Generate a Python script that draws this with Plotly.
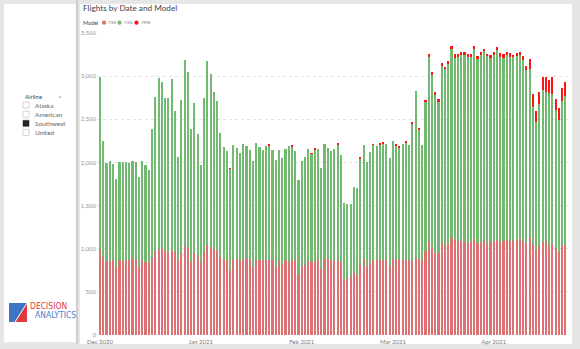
import pandas as pd
import plotly.graph_objects as go

# Daily Southwest flights by aircraft model, 1 Dec 2020 - 23 Apr 2021
dates = pd.date_range("2020-12-01", "2021-04-23", freq="D")

flights_738 = [
    996, 900, 857, 861, 865, 784, 865, 861, 865, 865,
    880, 880, 791, 865, 850, 830, 892, 965, 992, 1004,
    973, 965, 984, 957, 868, 950, 1030, 1011, 841, 946,
    911, 841, 965, 1038, 1015, 996, 977, 900, 868, 872,
    757, 872, 876, 853, 884, 880, 880, 791, 872, 872,
    872, 865, 865, 865, 787, 853, 822, 865, 850, 865,
    865, 703, 795, 811, 865, 841, 853, 872, 764, 884,
    880, 872, 861, 872, 841, 633, 648, 679, 726, 695,
    815, 876, 784, 818, 872, 872, 872, 872, 872, 803,
    880, 880, 872, 872, 865, 865, 861, 892, 884, 872,
    977, 1085, 1007, 950, 946, 1081, 1034, 1058, 1123, 1096,
    1100, 1092, 1081, 1069, 1088, 1112, 1069, 1081, 1104, 1058,
    1081, 1088, 1104, 1088, 1092, 1104, 1092, 1088, 1104, 1112,
    1088, 1065, 1135, 1058, 980, 1027, 1081, 1088, 1034, 1058,
    1007, 965, 1034, 1058,
]

flights_73g = [
    1999, 1343, 1139, 1150, 1119, 1026, 1138, 1142, 1138, 1131,
    1135, 1123, 1043, 1146, 1119, 1077, 1493, 1791, 1992, 1930,
    1768, 1776, 1988, 1641, 1193, 1775, 2158, 2042, 1548, 1741,
    1417, 1131, 1779, 2143, 2007, 1826, 1737, 1439, 1313, 1263,
    1167, 1332, 1289, 1255, 1328, 1316, 1266, 1220, 1351, 1305,
    1274, 1320, 1331, 1281, 1243, 1293, 1235, 1289, 1335, 1315,
    1266, 1088, 1224, 1250, 1289, 1257, 1297, 1282, 1174, 1324,
    1293, 1263, 1293, 1339, 1247, 896, 865, 838, 984, 1007,
    1230, 1324, 1223, 1305, 1330, 1313, 1332, 1352, 1340, 1254,
    1370, 1320, 1303, 1340, 1367, 1335, 1587, 1937, 1488, 1328,
    1721, 2135, 2009, 1834, 1752, 2031, 2047, 2085, 2189, 2117,
    2120, 2155, 2166, 2151, 2132, 2204, 2128, 2166, 2182, 2170,
    2126, 2159, 2201, 2139, 2124, 2143, 2135, 2129, 2131, 2135,
    2102, 2009, 1946, 1590, 1494, 1652, 1760, 1734, 1768, 1737,
    1602, 1521, 1680, 1713,
]

flights_7m8 = [
    0, 0, 0, 0, 0, 0, 0, 0, 0, 0,
    0, 0, 0, 0, 0, 0, 0, 0, 0, 0,
    0, 0, 0, 0, 0, 0, 0, 0, 0, 0,
    0, 0, 0, 0, 0, 0, 0, 0, 0, 0,
    10, 0, 0, 0, 0, 0, 0, 0, 0, 0,
    0, 0, 12, 0, 0, 0, 0, 0, 0, 12,
    0, 0, 0, 0, 0, 10, 15, 0, 0, 0,
    0, 0, 0, 12, 0, 0, 0, 0, 0, 0,
    12, 0, 0, 0, 10, 0, 12, 15, 0, 0,
    0, 12, 10, 0, 15, 0, 15, 0, 25, 0,
    27, 38, 30, 30, 35, 38, 30, 38, 38, 45,
    38, 38, 38, 38, 38, 38, 38, 38, 30, 30,
    35, 38, 38, 38, 42, 38, 38, 30, 38, 38,
    45, 45, 115, 147, 124, 143, 154, 173, 155, 200,
    124, 143, 146, 166,
]

models = ["738", "73G", "7M8"]
model_colors = ["#DD7072", "#72B972", "#FF1414"]

month_ticks = ["2020-12-01", "2021-01-01", "2021-02-01", "2021-03-01", "2021-04-01"]
month_labels = ["Dec 2020", "Jan 2021", "Feb 2021", "Mar 2021", "Apr 2021"]
y_ticks = [0, 500, 1000, 1500, 2000, 2500, 3000, 3500]

airlines = ["Alaska", "American", "Southwest", "United"]
selected_airline = "Southwest"

W, H = 580, 349
FONT = "Segoe UI, Lato, Open Sans, sans-serif"
LOGO_FONT = "Liberation Sans Narrow, DejaVu Sans Condensed, sans-serif"
PAPER = dict(xref="paper", yref="paper")


def px(x):
    return x / W


def py(y):
    return 1 - y / H


fig = go.Figure()
for name, values, color in zip(models, [flights_738, flights_73g, flights_7m8], model_colors):
    fig.add_trace(go.Bar(x=dates, y=values, name=name, marker_color=color,
                         marker_line_width=0, showlegend=False))

shapes = [
    # report canvas panels
    dict(type="rect", x0=px(4), x1=px(76), y0=py(342), y1=py(4),
         fillcolor="white", line_width=0, layer="below", **PAPER),
    dict(type="rect", x0=px(80), x1=px(572), y0=py(344), y1=py(4),
         fillcolor="white", line_width=0, layer="below", **PAPER),
    dict(type="rect", x0=px(76), x1=px(78), y0=py(344), y1=py(0),
         fillcolor="#CDCDCD", line_width=0, layer="below", **PAPER),
]
annotations = [
    dict(text="Flights by Date and Model", x=px(81), y=py(8.5), xanchor="left",
         yanchor="middle", showarrow=False,
         font=dict(family=FONT, size=8.2, color="#3F3F3F"), **PAPER),
    dict(text="Model", x=px(81), y=py(22.7), xanchor="left", yanchor="middle",
         showarrow=False, font=dict(family=FONT, size=5.5, color="#444444"), **PAPER),
]

# model legend: coloured dots with labels
legend_dot_x = [104, 119.5, 136.5]
for name, color, cx in zip(models, model_colors, legend_dot_x):
    shapes.append(dict(type="circle", x0=px(cx - 2.1), x1=px(cx + 2.1),
                       y0=py(22.7 + 2.1), y1=py(22.7 - 2.1),
                       fillcolor=color, line_width=0, **PAPER))
    annotations.append(dict(text=name, x=px(cx + 2.4), y=py(22.7), xanchor="left",
                            yanchor="middle", showarrow=False,
                            font=dict(family=FONT, size=4.5, color="#777777"), **PAPER))

# airline slicer
annotations.append(dict(text="Airline", x=px(22.5), y=py(96), xanchor="left",
                        yanchor="middle", showarrow=False,
                        font=dict(family=FONT, size=6, color="#444444"), **PAPER))
annotations.append(dict(text="⌄", x=px(59.5), y=py(95), xanchor="center",
                        yanchor="middle", showarrow=False,
                        font=dict(family=FONT, size=7, color="#888888"), **PAPER))
row_y = [105, 114.2, 123.3, 132.4]
for name, ry in zip(airlines, row_y):
    checked = name == selected_airline
    shapes.append(dict(type="rect", x0=px(23), x1=px(29), y0=py(ry + 3), y1=py(ry - 3),
                       fillcolor="#252525" if checked else "white",
                       line=dict(color="#333333" if checked else "#BBBBBB", width=0.6),
                       **PAPER))
    annotations.append(dict(text=name, x=px(33), y=py(ry), xanchor="left",
                            yanchor="middle", showarrow=False,
                            font=dict(family=FONT, size=6.5, color="#666666"), **PAPER))

# company logo
shapes.append(dict(type="rect", x0=px(9), x1=px(27), y0=py(322), y1=py(303),
                   fillcolor="#3F73C4", line_width=0, **PAPER))
shapes.append(dict(type="path",
                   path=f"M {px(15)},{py(322)} L {px(27)},{py(303)} L {px(27)},{py(322)} Z",
                   fillcolor="#E03A3C", line_width=0, **PAPER))
shapes.append(dict(type="line", x0=px(15), x1=px(27), y0=py(322), y1=py(303),
                   line=dict(color="white", width=1), **PAPER))
annotations.append(dict(text="DECISION", x=px(27.5), y=py(306.3), xanchor="left",
                        yanchor="middle", showarrow=False,
                        font=dict(family=LOGO_FONT, size=8.5, color="#E03A3C"), **PAPER))
annotations.append(dict(text="ANALYTICS", x=px(33), y=py(315), xanchor="left",
                        yanchor="middle", showarrow=False,
                        font=dict(family=LOGO_FONT, size=8.5, color="#4A80CC"), **PAPER))

fig.update_layout(
    width=W, height=H,
    margin=dict(l=0, r=0, t=0, b=0),
    paper_bgcolor="#E6E6E6",
    plot_bgcolor="white",
    barmode="stack",
    bargap=0.35,
    showlegend=False,
    shapes=shapes,
    annotations=annotations,
    xaxis=dict(
        domain=[px(97), px(570)],
        type="date",
        range=["2020-11-30 02:00", "2021-04-24 10:00"],
        tickvals=month_ticks, ticktext=month_labels,
        tickfont=dict(family=FONT, size=6, color="#777777"),
        ticklabelstandoff=2,
        showgrid=False, zeroline=False, showline=False, ticks="",
        automargin=False,
    ),
    yaxis=dict(
        domain=[py(335), py(33)],
        range=[0, 3500],
        tickvals=y_ticks, tickformat=",",
        tickfont=dict(family=FONT, size=6, color="#999999"),
        showgrid=True, gridcolor="#E3E3E3", griddash="dot", gridwidth=1,
        zeroline=False, showline=False, ticks="",
        automargin=False,
    ),
)

fig.write_html("out.html")
